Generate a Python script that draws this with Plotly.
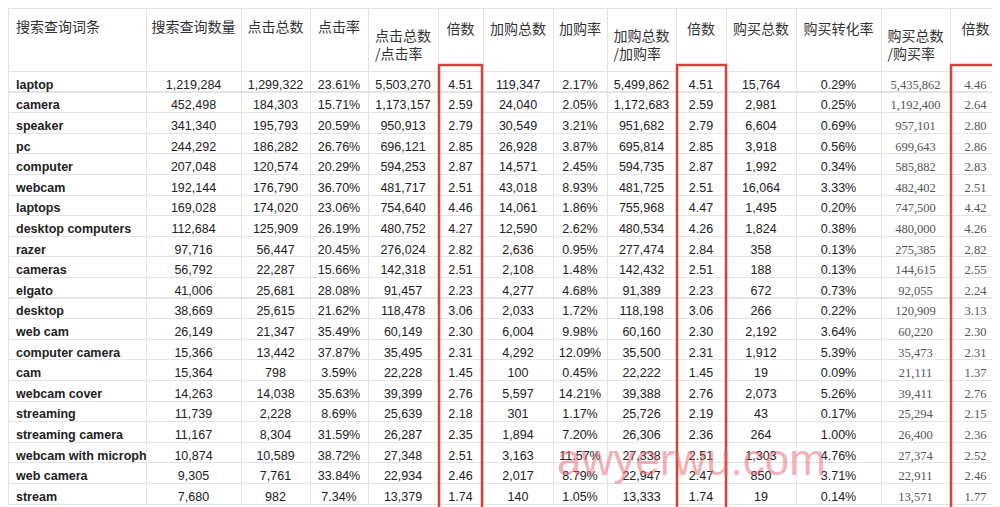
import plotly.graph_objects as go

terms = ["laptop","camera","speaker","pc","computer","webcam","laptops","desktop computers","razer","cameras","elgato","desktop","web cam","computer camera","cam","webcam cover","streaming","streaming camera","webcam with microph","web camera","stream"]
search_qty = ["1,219,284","452,498","341,340","244,292","207,048","192,144","169,028","112,684","97,716","56,792","41,006","38,669","26,149","15,366","15,364","14,263","11,739","11,167","10,874","9,305","7,680"]
clicks = ["1,299,322","184,303","195,793","186,282","120,574","176,790","174,020","125,909","56,447","22,287","25,681","25,615","21,347","13,442","798","14,038","2,228","8,304","10,589","7,761","982"]
click_rate = ["23.61%","15.71%","20.59%","26.76%","20.29%","36.70%","23.06%","26.19%","20.45%","15.66%","28.08%","21.62%","35.49%","37.87%","3.59%","35.63%","8.69%","31.59%","38.72%","33.84%","7.34%"]
click_div = ["5,503,270","1,173,157","950,913","696,121","594,253","481,717","754,640","480,752","276,024","142,318","91,457","118,478","60,149","35,495","22,228","39,399","25,639","26,287","27,348","22,934","13,379"]
mult1 = ["4.51","2.59","2.79","2.85","2.87","2.51","4.46","4.27","2.82","2.51","2.23","3.06","2.30","2.31","1.45","2.76","2.18","2.35","2.51","2.46","1.74"]
carts = ["119,347","24,040","30,549","26,928","14,571","43,018","14,061","12,590","2,636","2,108","4,277","2,033","6,004","4,292","100","5,597","301","1,894","3,163","2,017","140"]
cart_rate = ["2.17%","2.05%","3.21%","3.87%","2.45%","8.93%","1.86%","2.62%","0.95%","1.48%","4.68%","1.72%","9.98%","12.09%","0.45%","14.21%","1.17%","7.20%","11.57%","8.79%","1.05%"]
cart_div = ["5,499,862","1,172,683","951,682","695,814","594,735","481,725","755,968","480,534","277,474","142,432","91,389","118,198","60,160","35,500","22,222","39,388","25,726","26,306","27,338","22,947","13,333"]
mult2 = ["4.51","2.59","2.79","2.85","2.87","2.51","4.47","4.26","2.84","2.51","2.23","3.06","2.30","2.31","1.45","2.76","2.19","2.36","2.51","2.47","1.74"]
buys = ["15,764","2,981","6,604","3,918","1,992","16,064","1,495","1,824","358","188","672","266","2,192","1,912","19","2,073","43","264","1,303","850","19"]
buy_rate = ["0.29%","0.25%","0.69%","0.56%","0.34%","3.33%","0.20%","0.38%","0.13%","0.13%","0.73%","0.22%","3.64%","5.39%","0.09%","5.26%","0.17%","1.00%","4.76%","3.71%","0.14%"]
buy_div = ["5,435,862","1,192,400","957,101","699,643","585,882","482,402","747,500","480,000","275,385","144,615","92,055","120,909","60,220","35,473","21,111","39,411","25,294","26,400","27,374","22,911","13,571"]
mult3 = ["4.46","2.64","2.80","2.86","2.83","2.51","4.42","4.26","2.82","2.55","2.24","3.13","2.30","2.31","1.37","2.76","2.15","2.36","2.52","2.46","1.77"]

headers = ["搜索查询词条","搜索查询数量","点击总数","点击率","点击总数/点击率","倍数","加购总数","加购率","加购总数/加购率","倍数","购买总数","购买转化率","购买总数/购买率","倍数"]
widths = [138,95,69,58,70,45,70,54,69,50,70,85,69,51]

def head_label(h):
    if "/" in h:
        a, b = h.split("/")
        return "<span style='font-size:6px'> </span><br>" + a + "<br>/" + b
    return "<br>" + h

term_labels = [t.replace(" ", "\u00a0") for t in terms]
columns = [term_labels,search_qty,clicks,click_rate,click_div,mult1,carts,cart_rate,cart_div,mult2,buys,buy_rate,buy_div,mult3]

W, H = 1000, 507
sans = "Liberation Sans, Arial, sans-serif"
serif = "Liberation Serif, Times New Roman, serif"
cell_col = ["#222"]*12 + ["#555", "#555"]

fig = go.Figure(go.Table(
    domain=dict(x=[0, 993/W], y=[0, 1]),
    columnwidth=widths,
    header=dict(values=[head_label(h) for h in headers], height=62, align=["left"]+["center"]*13,
                fill_color="white", line_color="#e4e4e4",
                font=dict(family="Noto Sans CJK SC", size=14, color="#333")),
    cells=dict(values=columns, height=20.6, align=["left"]+["center"]*13,
               fill_color="white", line_color="#e4e4e4",
               font=dict(family=[sans]*12 + [serif, serif], size=12.5, color=cell_col,
                         weight=["bold"] + ["normal"]*13)),
))

shapes = []
for x0, x1 in [(431, 474), (669, 718), (943, 993)]:
    shapes.append(dict(type="rect", xref="paper", yref="paper",
                       x0=x0/W, x1=x1/W, y0=1-502/H, y1=1-57/H,
                       line=dict(color="#d0453a", width=2.5)))
fig.update_layout(width=W, height=H, margin=dict(l=0, r=0, t=0, b=0),
                  paper_bgcolor="white", shapes=shapes,
                  annotations=[dict(text="awyerwu.com", x=820/W, y=1-478/H, xref="paper", yref="paper",
                                    showarrow=False, font=dict(family="Liberation Sans", size=44, color="rgba(230,100,110,0.5)"))])
fig.write_html("out.html")
